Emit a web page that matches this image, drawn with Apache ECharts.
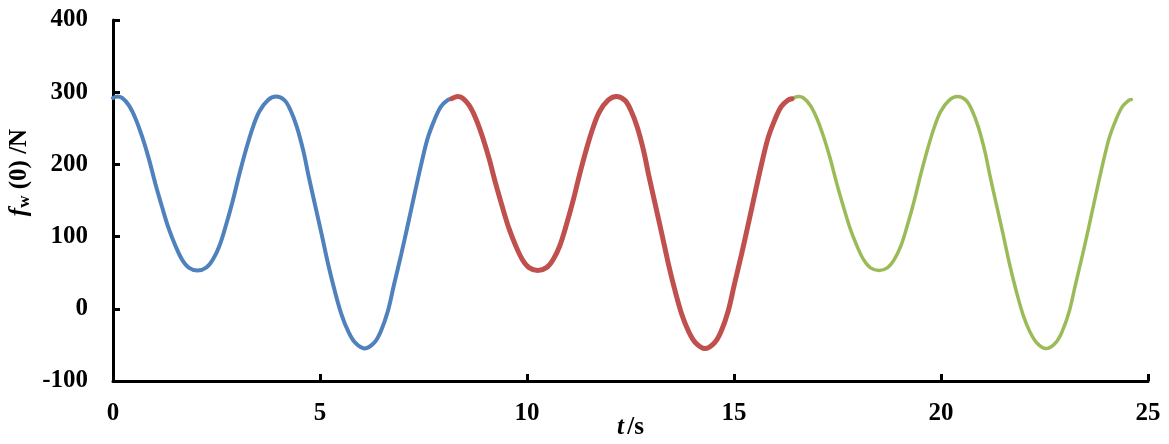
<!DOCTYPE html>
<html>
<head>
<meta charset="utf-8">
<script src="https://cdn.jsdelivr.net/npm/echarts@6/dist/echarts.min.js"></script>
<style>
  html, body { margin: 0; padding: 0; background: #fff; }
  #container { width: 1169px; height: 444px; }
</style>
</head>
<body>
<div id="container"></div>
<script>
// [t (s), f_w(0) (N)], one array per coloured segment
var blueSeg = [
  [0, 292], [0.1, 294], [0.22, 292], [0.38, 282], [0.54, 264], [0.7, 239], [0.86, 209],
  [1.02, 174], [1.18, 142], [1.34, 112], [1.51, 87], [1.67, 68], [1.83, 57], [2.04, 53],
  [2.25, 57], [2.41, 68], [2.57, 87], [2.73, 116], [2.89, 149], [3.05, 186], [3.21, 220],
  [3.37, 250], [3.53, 273], [3.74, 289], [3.94, 294], [4.14, 289], [4.28, 276], [4.44, 252],
  [4.6, 218], [4.72, 185], [4.88, 144], [5.04, 103], [5.2, 61], [5.36, 24], [5.52, -8],
  [5.68, -31], [5.85, -47], [6.08, -55], [6.31, -47], [6.47, -31], [6.64, -3], [6.79, 34],
  [6.96, 75], [7.12, 116], [7.28, 158], [7.44, 199], [7.6, 236], [7.76, 261], [7.92, 280],
  [8.08, 289], [8.18, 291]
];
var redSeg = [
  [8.18, 291], [8.32, 294], [8.44, 292], [8.6, 282], [8.76, 264], [8.92, 239], [9.08, 209],
  [9.24, 174], [9.4, 142], [9.56, 112], [9.73, 87], [9.89, 68], [10.05, 57], [10.26, 53],
  [10.47, 57], [10.63, 68], [10.79, 87], [10.95, 116], [11.11, 149], [11.27, 186], [11.43, 220],
  [11.59, 250], [11.75, 273], [11.96, 289], [12.16, 294], [12.36, 289], [12.5, 276], [12.66, 252],
  [12.82, 218], [12.94, 185], [13.1, 144], [13.26, 103], [13.42, 61], [13.58, 24], [13.74, -8],
  [13.9, -31], [14.07, -47], [14.3, -55], [14.53, -47], [14.69, -31], [14.86, -3], [15.01, 34],
  [15.18, 75], [15.34, 116], [15.5, 158], [15.66, 199], [15.82, 236], [15.98, 261], [16.14, 280],
  [16.3, 289], [16.4, 291]
];
var greenSeg = [
  [16.4, 291], [16.56, 294], [16.68, 292], [16.84, 282], [17, 264], [17.16, 239], [17.32, 209],
  [17.48, 174], [17.64, 142], [17.8, 112], [17.97, 87], [18.13, 68], [18.29, 57], [18.5, 53],
  [18.71, 57], [18.87, 68], [19.03, 87], [19.19, 116], [19.35, 149], [19.51, 186], [19.67, 220],
  [19.83, 250], [19.99, 273], [20.2, 289], [20.4, 294], [20.6, 289], [20.74, 276], [20.9, 252],
  [21.06, 218], [21.18, 185], [21.34, 144], [21.5, 103], [21.66, 61], [21.82, 24], [21.98, -8],
  [22.14, -31], [22.31, -47], [22.54, -55], [22.77, -47], [22.93, -31], [23.1, -3], [23.25, 34],
  [23.42, 75], [23.58, 116], [23.74, 158], [23.9, 199], [24.06, 236], [24.22, 261], [24.38, 280],
  [24.54, 289], [24.6, 290]
];

var xMin = 0, xMax = 25, xStep = 5;
var yMin = -100, yMax = 400, yStep = 100;

var serif = "'Times New Roman', 'Liberation Serif', serif";
var axisLine = { onZero: false, lineStyle: { color: "#000", width: 3 } };
var axisTick = { show: true, inside: true, length: 7, lineStyle: { color: "#000", width: 3 } };

var chart = echarts.init(document.getElementById("container"));

function seg(data, color, width, z) {
  return {
    type: "line",
    data: data,
    smooth: 0.35,
    showSymbol: false,
    symbol: "none",
    z: z,
    lineStyle: { color: color, width: width, cap: "round" }
  };
}

chart.setOption({
  animation: false,
  backgroundColor: "#fff",
  grid: { left: 113, right: 21, top: 20, bottom: 63, containLabel: false, outerBoundsMode: "none" },
  xAxis: {
    type: "value",
    min: xMin, max: xMax, interval: xStep,
    axisLine: axisLine,
    axisTick: axisTick,
    splitLine: { show: false },
    axisLabel: { color: "#000", fontFamily: serif, fontWeight: "bold", fontSize: 25, margin: 20 },
    name: "{i|t} {n|/s}",
    nameLocation: "middle",
    nameGap: 34,
    nameMoveOverlap: false,
    nameTextStyle: {
      rich: {
        i: { fontFamily: serif, fontStyle: "italic", fontWeight: "bold", fontSize: 25, color: "#000" },
        n: { fontFamily: serif, fontWeight: "bold", fontSize: 25, color: "#000" }
      }
    }
  },
  yAxis: {
    type: "value",
    min: yMin, max: yMax, interval: yStep,
    axisLine: axisLine,
    axisTick: axisTick,
    splitLine: { show: false },
    axisLabel: { color: "#000", fontFamily: serif, fontWeight: "bold", fontSize: 25, margin: 25 },
    name: "{i|f}{s|w}{n| (0) /N}",
    nameLocation: "middle",
    nameGap: 80,
    nameRotate: 90,
    nameMoveOverlap: false,
    nameTextStyle: {
      padding: [0, 0, 0, 56],
      rich: {
        i: { fontFamily: serif, fontStyle: "italic", fontWeight: "bold", fontSize: 25, color: "#000" },
        s: { fontFamily: serif, fontWeight: "bold", fontSize: 17, color: "#000", verticalAlign: "bottom", padding: [9, 0, 0, 0] },
        n: { fontFamily: serif, fontWeight: "bold", fontSize: 25, color: "#000" }
      }
    }
  },
  series: [
    seg(blueSeg, "#4F81BD", 4, 2),
    seg(greenSeg, "#9BBB59", 3.5, 3),
    seg(redSeg, "#C0504D", 5, 4)
  ]
});
</script>
</body>
</html>
